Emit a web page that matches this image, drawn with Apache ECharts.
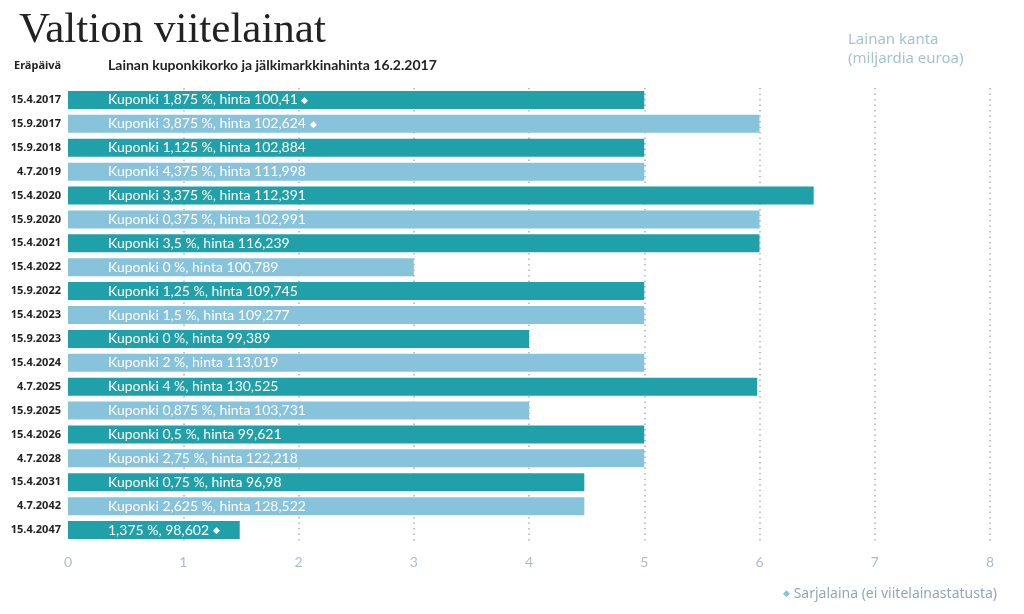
<!DOCTYPE html>
<html>
<head>
<meta charset="utf-8">
<script src="https://cdn.jsdelivr.net/npm/echarts@6/dist/echarts.min.js"></script>
<style>html,body{margin:0;padding:0;background:#fff;}#c{width:1024px;height:614px;}</style>
</head>
<body>
<div id="c"></div>
<script>
const categories = ["15.4.2017","15.9.2017","15.9.2018","4.7.2019","15.4.2020","15.9.2020","15.4.2021","15.4.2022","15.9.2022","15.4.2023","15.9.2023","15.4.2024","4.7.2025","15.9.2025","15.4.2026","4.7.2028","15.4.2031","4.7.2042","15.4.2047"];
const kanta = [5.0, 6.0, 5.0, 5.0, 6.47, 6.0, 6.0, 3.0, 5.0, 5.0, 4.0, 5.0, 5.98, 4.0, 5.0, 5.0, 4.48, 4.48, 1.49];
const barLabels = ["Kuponki 1,875 %, hinta 100,41","Kuponki 3,875 %, hinta 102,624","Kuponki 1,125 %, hinta 102,884","Kuponki 4,375 %, hinta 111,998","Kuponki 3,375 %, hinta 112,391","Kuponki 0,375 %, hinta 102,991","Kuponki 3,5 %, hinta 116,239","Kuponki 0 %, hinta 100,789","Kuponki 1,25 %, hinta 109,745","Kuponki 1,5 %, hinta 109,277","Kuponki 0 %, hinta 99,389","Kuponki 2 %, hinta 113,019","Kuponki 4 %, hinta 130,525","Kuponki 0,875 %, hinta 103,731","Kuponki 0,5 %, hinta 99,621","Kuponki 2,75 %, hinta 122,218","Kuponki 0,75 %, hinta 96,98","Kuponki 2,625 %, hinta 128,522","1,375 %, 98,602"];
const sarjalaina = [true,true,false,false,false,false,false,false,false,false,false,false,false,false,false,false,false,false,true];
const xTicks = [0,1,2,3,4,5,6,7,8];

const DARK = '#20a0a8', LIGHT = '#88c3dc';
const chart = echarts.init(document.getElementById('c'), null, {renderer:'canvas'});
const data = kanta.map((v,i)=>({value:v, itemStyle:{color: i%2===0?DARK:LIGHT}}));

chart.setOption({
  animation:false,
  backgroundColor:'#fff',
  textStyle:{fontFamily:'Lato'},
  title:{
    text:'Valtion viitelainat', left:14, top:4,
    textStyle:{fontFamily:'Liberation Serif', fontSize:43, fontWeight:'normal', color:'#222'}
  },
  grid:{left:68, right:34, top:88, height:454, containLabel:false},
  xAxis:{
    type:'value', min:0, max:8, interval:1,
    axisLine:{show:false}, axisTick:{show:false},
    axisLabel:{color:'#a9bfc8', fontSize:14, fontFamily:'Lato', margin:13, formatter:v=>xTicks.includes(v)?String(v):''},
    splitLine:{show:true, showMinLine:false, lineStyle:{type:[1.5,4], color:'#a9b4ba', width:1.5}}
  },
  yAxis:{
    type:'category', data:categories, inverse:true,
    axisLine:{show:false}, axisTick:{show:false},
    axisLabel:{color:'#222', fontSize:11, fontFamily:'Noto Sans', fontWeight:'bold', margin:7}
  },
  series:[{
    type:'bar', data:data, barWidth:18,
    label:{
      show:true, position:'insideLeft', distance:40,
      formatter:p=>barLabels[p.dataIndex] + (sarjalaina[p.dataIndex]?' {d|◆}':''),
      color:'#fff', fontSize:14, fontFamily:'Lato',
      rich:{d:{color:'#fff', fontSize:9}}
    }
  }],
  graphic:[
    {type:'text', left:14, top:60, style:{text:'Eräpäivä', font:'bold 11px "Noto Sans"', fill:'#222'}},
    {type:'text', left:108, top:58, style:{text:'Lainan kuponkikorko ja jälkimarkkinahinta 16.2.2017', font:'bold 14px Lato', fill:'#222'}},
    {type:'text', left:848, top:30, style:{text:'Lainan kanta\n(miljardia euroa)', font:'15px "Noto Sans"', fill:'#a3c3cf', lineHeight:19}},
    {type:'text', left:783, top:587, style:{text:'{d|◆} Sarjalaina (ei viitelainastatusta)', font:'14px "Noto Sans"', fill:'#8fa9b5', rich:{d:{fill:'#88c3dc', fontSize:9}}}}
  ]
});
</script>
</body>
</html>
